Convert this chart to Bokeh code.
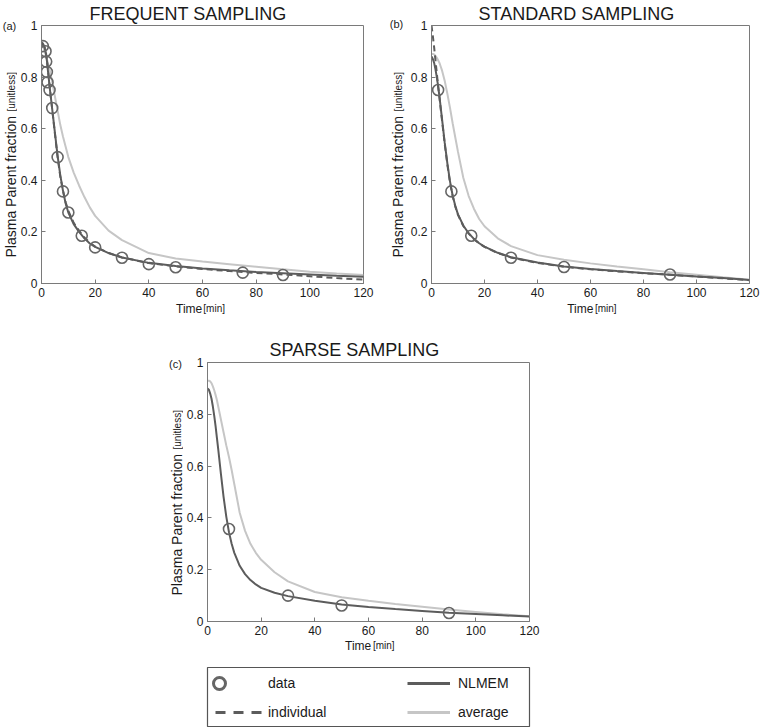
import math
from bokeh.plotting import figure
from bokeh.models import Range1d, FixedTicker, Legend, LegendItem
from bokeh.layouts import column, row
from bokeh.embed import file_html
from bokeh.resources import INLINE
from bokeh.core.properties import value

# ---------------- data ----------------
X_TICKS = [0, 20, 40, 60, 80, 100, 120]
Y_TICKS = [0, 0.2, 0.4, 0.6, 0.8, 1]
Y_TICK_LABELS = ["0", "0.2", "0.4", "0.6", "0.8", "1"]

CURVE_T = [0, 0.5, 1, 1.5, 2, 2.5, 3, 3.5, 4, 5, 6, 7, 8, 9, 10, 12, 14, 16, 18, 20,
           25, 30, 40, 50, 60, 70, 80, 90, 100, 110, 120]

# (a) frequent sampling
A_DATA_T = [0.5, 1.5, 1.75, 2.0, 2.25, 3.0, 4.0, 6.0, 8.0, 10.0, 15.0, 20.0, 30.0, 40.0, 50.0, 75.0, 90.0]
A_DATA_V = [0.92, 0.90, 0.86, 0.82, 0.78, 0.75, 0.68, 0.49, 0.357, 0.275, 0.185, 0.14, 0.10, 0.075, 0.063, 0.042, 0.033]
A_NLMEM = [0.935, 0.93, 0.92, 0.90, 0.865, 0.815, 0.765, 0.72, 0.675, 0.585, 0.495, 0.42, 0.36, 0.31, 0.275,
           0.23, 0.2, 0.175, 0.155, 0.142, 0.118, 0.101, 0.08, 0.068, 0.058, 0.051, 0.045, 0.04, 0.035, 0.03, 0.026]
A_INDIV = [0.925, 0.925, 0.92, 0.905, 0.87, 0.82, 0.77, 0.72, 0.675, 0.58, 0.49, 0.415, 0.36, 0.315, 0.282,
           0.235, 0.205, 0.178, 0.158, 0.143, 0.118, 0.101, 0.079, 0.066, 0.056, 0.048, 0.041, 0.035, 0.028, 0.021, 0.015]
A_AVG = [0.93, 0.92, 0.905, 0.89, 0.87, 0.85, 0.83, 0.805, 0.78, 0.725, 0.67, 0.615, 0.57, 0.53, 0.49,
         0.43, 0.38, 0.335, 0.295, 0.262, 0.205, 0.168, 0.118, 0.097, 0.085, 0.075, 0.065, 0.055, 0.046, 0.039, 0.033]

# (b) standard sampling
B_DATA_T = [2.5, 7.5, 15.0, 30.0, 50.0, 90.0]
B_DATA_V = [0.75, 0.357, 0.185, 0.10, 0.064, 0.035]
B_NLMEM = [0.88, 0.87, 0.855, 0.83, 0.8, 0.765, 0.725, 0.68, 0.635, 0.545, 0.465, 0.395, 0.34, 0.3, 0.268,
           0.225, 0.195, 0.173, 0.156, 0.143, 0.119, 0.102, 0.081, 0.066, 0.056, 0.048, 0.041, 0.034, 0.027, 0.021, 0.014]
B_INDIV = [1.0, 0.96, 0.915, 0.865, 0.815, 0.765, 0.72, 0.675, 0.63, 0.54, 0.46, 0.39, 0.338, 0.298, 0.266,
           0.223, 0.194, 0.172, 0.155, 0.142, 0.118, 0.101, 0.08, 0.065, 0.055, 0.047, 0.04, 0.034, 0.027, 0.02, 0.013]
B_AVG = [0.89, 0.89, 0.888, 0.882, 0.875, 0.865, 0.855, 0.84, 0.825, 0.785, 0.735, 0.68, 0.62, 0.565, 0.51,
         0.41, 0.34, 0.29, 0.25, 0.222, 0.175, 0.145, 0.11, 0.092, 0.078, 0.066, 0.055, 0.044, 0.034, 0.024, 0.015]

# (c) sparse sampling
C_DATA_T = [8.0, 30.0, 50.0, 90.0]
C_DATA_V = [0.357, 0.10, 0.062, 0.033]
C_NLMEM = [0.90, 0.895, 0.88, 0.86, 0.83, 0.795, 0.755, 0.71, 0.665, 0.57, 0.48, 0.405, 0.345, 0.3, 0.265,
           0.215, 0.183, 0.16, 0.143, 0.13, 0.111, 0.098, 0.08, 0.066, 0.056, 0.048, 0.041, 0.034, 0.029, 0.024, 0.019]
C_AVG = [0.93, 0.93, 0.927, 0.92, 0.908, 0.893, 0.875, 0.855, 0.83, 0.78, 0.73, 0.68, 0.635, 0.585, 0.53,
         0.42, 0.35, 0.3, 0.265, 0.238, 0.19, 0.155, 0.114, 0.094, 0.08, 0.068, 0.057, 0.046, 0.037, 0.028, 0.02]

TITLES = ["FREQUENT SAMPLING", "STANDARD SAMPLING", "SPARSE SAMPLING"]
PANEL_TAGS = ["(a)", "(b)", "(c)"]
Y_LABEL = ["Plasma Parent fraction", "[unitless]"]
X_LABEL = ["Time", "[min]"]
LEGEND_LABELS = ["data", "individual", "NLMEM", "average"]

# ---------------- style ----------------
FONT = "Liberation Sans"
DARK = "#5c5c5c"
LIGHT = "#c6c6c6"
FRAME = "#7a7a7a"
TEXT = "#1a1a1a"


def base_fig(**kw):
    f = figure(toolbar_location=None, tools="", output_backend="svg", **kw)
    f.grid.visible = False
    f.background_fill_color = "white"
    f.border_fill_color = "white"
    return f


def strip(width, height):
    f = base_fig(width=width, height=height, x_range=Range1d(0, width), y_range=Range1d(0, height),
                 min_border=0, x_axis_location=None, y_axis_location=None)
    f.outline_line_color = None
    return f


def put(f, x, y, text, size, angle=0.0, align="left", baseline="alphabetic"):
    f.text(x=[x], y=[y], text=[text], angle=angle, text_font=value(FONT),
           text_font_size=value(size), text_color=TEXT, text_align=align, text_baseline=baseline)


def style_axis(ax, ticks, labels=None):
    ax.ticker = FixedTicker(ticks=ticks)
    ax.major_tick_in = 4
    ax.major_tick_out = 0
    ax.minor_tick_in = 0
    ax.minor_tick_out = 0
    ax.axis_line_color = FRAME
    ax.major_tick_line_color = FRAME
    ax.major_label_text_font = FONT
    ax.major_label_text_color = TEXT
    ax.major_label_text_font_size = "12px"
    ax.major_label_standoff = 4
    if labels is not None:
        ax.major_label_overrides = {t: l for t, l in zip(ticks, labels)}


def make_panel(frame_w, frame_h, border, title, title_offset, title_standoff,
               data_t, data_v, nlmem, avg, indiv=None):
    bl, br, bt, bb = border
    p = base_fig(frame_width=frame_w, frame_height=frame_h,
                 min_border_left=bl, min_border_right=br, min_border_top=bt, min_border_bottom=bb,
                 x_range=Range1d(0, 120), y_range=Range1d(0, 1))
    p.outline_line_color = FRAME
    p.title.text = title
    p.title.align = "left"
    p.title.offset = title_offset
    p.title.standoff = title_standoff
    p.title.text_font = FONT
    p.title.text_font_size = "18px"
    p.title.text_font_style = "normal"
    p.title.text_color = TEXT
    style_axis(p.xaxis[0], X_TICKS)
    style_axis(p.yaxis[0], Y_TICKS, Y_TICK_LABELS)

    p.line(CURVE_T, avg, line_color=LIGHT, line_width=2)
    if indiv is not None:
        p.line(CURVE_T, indiv, line_color=DARK, line_width=2, line_dash="6 4")
    p.line(CURVE_T, nlmem, line_color=DARK, line_width=2)
    p.scatter(data_t, data_v, marker="circle", size=11, fill_color=None,
              line_color="#666666", line_width=1.6)
    return p


def y_strip(width, height, mid_x, main_y, tag, tag_x, tag_y):
    f = strip(width, height)
    put(f, mid_x, main_y, Y_LABEL[0], "14px", angle=math.pi / 2, baseline="middle")
    put(f, mid_x + 1, main_y + 146, Y_LABEL[1], "10px", angle=math.pi / 2, baseline="middle")
    put(f, tag_x, tag_y, tag, "11px", align="center", baseline="middle")
    return f


def x_strip(width, height, x0, y):
    f = strip(width, height)
    put(f, x0, y, X_LABEL[0], "12px", baseline="middle")
    put(f, x0 + 31, y, X_LABEL[1], "10px", baseline="middle")
    return f


# row 1 ---------------------------------------------------------
pa = make_panel(322, 258, (23, 20, 25, 19), TITLES[0], 48, 3, A_DATA_T, A_DATA_V, A_NLMEM, A_AVG, A_INDIV)
pb = make_panel(318, 258, (23, 14, 25, 19), TITLES[1], 47, 3, B_DATA_T, B_DATA_V, B_NLMEM, B_AVG, B_INDIV)
ya = y_strip(17, 320, 10, 63, PANEL_TAGS[0], 9, 295)
yb = y_strip(24, 320, 14, 63, PANEL_TAGS[1], 13, 297)
xa = x_strip(365, 18, 153, 12)
xb = x_strip(355, 18, 152, 12)

# row 2 ---------------------------------------------------------
pc = make_panel(322, 259, (23, 12, 42, 19), TITLES[2], 62, 6, C_DATA_T, C_DATA_V, C_NLMEM, C_AVG)
yc = y_strip(183, 337, 176, 62, PANEL_TAGS[2], 175, 294)
xc = x_strip(357, 17, 153, 12)

# legend box ----------------------------------------------------
lp = base_fig(frame_width=322, frame_height=59, min_border_left=207, min_border_right=4,
              min_border_top=10, min_border_bottom=1, x_range=Range1d(-2, -1), y_range=Range1d(-2, -1),
              x_axis_location=None, y_axis_location=None)
lp.outline_line_color = "#555555"
lp.outline_line_width = 1.2

# legend proxies (drawn from panel (a) data, outside the visible range)
r_data = lp.scatter(A_DATA_T, A_DATA_V, marker="circle", size=10, fill_color=None,
                    line_color="#666666", line_width=3)
r_ind = lp.line(CURVE_T, A_INDIV, line_color=DARK, line_width=3, line_dash="10 8")
r_nl = lp.line(CURVE_T, A_NLMEM, line_color=DARK, line_width=3)
r_avg = lp.line(CURVE_T, A_AVG, line_color=LIGHT, line_width=3)

# (label, renderer, location, glyph_w, glyph_h, standoff)
specs = [
    (LEGEND_LABELS[0], r_data, (-3, 28), 30, 30, 34),
    (LEGEND_LABELS[1], r_ind, (8, 4), 47, 20, 6),
    (LEGEND_LABELS[2], r_nl, (200, 33), 43, 20, 8),
    (LEGEND_LABELS[3], r_avg, (200, 4), 43, 20, 8),
]
for lab, r, loc, gw, gh, so in specs:
    lg = Legend(items=[LegendItem(label=lab, renderers=[r])], location=loc,
                glyph_width=gw, glyph_height=gh, label_standoff=so, label_height=20,
                padding=0, margin=0, spacing=0, border_line_alpha=0, background_fill_alpha=0,
                label_text_font=FONT, label_text_font_size="14px", label_text_color=TEXT)
    lp.add_layout(lg)

layout = column(
    row(ya, column(pa, xa), yb, column(pb, xb)),
    row(yc, column(pc, xc)),
    lp,
)
open("out.html", "w").write(file_html(layout, INLINE))
